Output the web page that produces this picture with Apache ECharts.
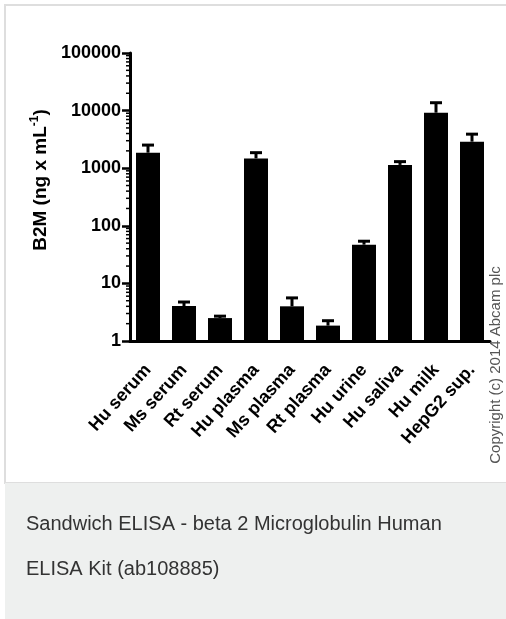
<!DOCTYPE html>
<html>
<head>
<meta charset="utf-8">
<script src="https://cdn.jsdelivr.net/npm/echarts@6/dist/echarts.min.js"></script>
<style>
  html, body { margin: 0; padding: 0; background: #fff; }
  #chart { width: 506px; height: 619px; }
</style>
</head>
<body>
<div id="chart"></div>
<script>
    // sample names on the x axis
    const categories = ['Hu serum', 'Ms serum', 'Rt serum', 'Hu plasma', 'Ms plasma',
        'Rt plasma', 'Hu urine', 'Hu saliva', 'Hu milk', 'HepG2 sup.'];
    // mean B2M concentration (ng/mL)
    const meanValues = [1860, 4.05, 2.5, 1480, 4.0, 1.85, 47, 1140, 9200, 2890];
    // top of the error bar (mean + SD)
    const upperValues = [2520, 4.75, 2.7, 1860, 5.6, 2.25, 54, 1300, 13700, 3900];
    // log axis labels and minor tick positions
    const yTickLabels = ['1', '10', '100', '1000', '10000', '100000'];
    const decades = [1, 10, 100, 1000, 10000];
    const minorSteps = [2, 3, 4, 5, 6, 7, 8, 9];

    const minorTicks = [];
    decades.forEach(function (d) {
        minorSteps.forEach(function (s) { minorTicks.push([0, d * s]); });
    });

    const errData = categories.map(function (c, i) {
        return [i, meanValues[i], upperValues[i]];
    });

    const chart = echarts.init(document.getElementById('chart'));

    const option = {
        animation: false,
        textStyle: { fontFamily: 'Liberation Sans, Arial, sans-serif' },
        grid: { left: 130, top: 53, width: 360, height: 288 },
        graphic: [
            {
                type: 'rect', z: -10,
                shape: { x: 5, y: 5, width: 520, height: 478 },
                style: { fill: '#fff', stroke: '#dedede', lineWidth: 2 }
            },
            {
                type: 'rect', z: -10,
                shape: { x: 5, y: 483, width: 520, height: 140 },
                style: { fill: '#eef0ef' }
            },
            {
                type: 'text', z: 5, x: 26, y: 534,
                style: {
                    text: 'Sandwich ELISA - beta 2 Microglobulin Human',
                    fill: '#333', font: '20px "Liberation Sans", Arial, sans-serif',
                    textVerticalAlign: 'bottom'
                }
            },
            {
                type: 'text', z: 5, x: 26, y: 579,
                style: {
                    text: 'ELISA Kit (ab108885)',
                    fill: '#333', font: '20px "Liberation Sans", Arial, sans-serif',
                    textVerticalAlign: 'bottom'
                }
            },
            {
                type: 'text', z: 5, x: 496, y: 365, rotation: Math.PI / 2,
                style: {
                    text: 'Copyright (c) 2014 Abcam plc',
                    fill: '#555', font: '15px "Liberation Sans", Arial, sans-serif',
                    textAlign: 'center', textVerticalAlign: 'middle'
                }
            }
        ],
        xAxis: {
            type: 'category',
            data: categories,
            axisLine: { lineStyle: { color: '#000', width: 3 } },
            axisTick: { alignWithLabel: true, length: 7, lineStyle: { color: '#000', width: 2.5 } },
            axisLabel: {
                rotate: 48, margin: 26, interval: 0,
                color: '#000', fontWeight: 'bold', fontSize: 18
            }
        },
        yAxis: {
            type: 'log',
            logBase: 10,
            min: 1,
            max: 100000,
            name: '{t|B2M (ng x mL}{s|-1}{t|)}',
            nameLocation: 'middle',
            nameGap: 65,
            nameTextStyle: {
                padding: [0, 0, 0, 34],
                rich: {
                    t: { fontSize: 19, fontWeight: 'bold', color: '#000', lineHeight: 24 },
                    s: { fontSize: 12, fontWeight: 'bold', color: '#000', lineHeight: 12, verticalAlign: 'top' }
                }
            },
            splitLine: { show: false },
            axisLine: { show: true, lineStyle: { color: '#000', width: 3 } },
            axisTick: { show: true, length: 8, lineStyle: { color: '#000', width: 2.5 } },
            axisLabel: {
                margin: 9, color: '#000', fontWeight: 'bold', fontSize: 18,
                formatter: function (v) {
                    return yTickLabels[Math.round(Math.log10(v))];
                }
            }
        },
        series: [
            {
                type: 'bar',
                data: meanValues,
                barWidth: 24,
                itemStyle: { color: '#000' },
                z: 3
            },
            {
                // upper error bars
                type: 'custom',
                data: errData,
                z: 2,
                renderItem: function (params, api) {
                    const top = api.coord([api.value(0), api.value(2)]);
                    const base = api.coord([api.value(0), api.value(1)]);
                    const half = 6;
                    const st = { stroke: '#000', lineWidth: 3 };
                    return {
                        type: 'group',
                        children: [
                            { type: 'line', shape: { x1: top[0], y1: base[1], x2: top[0], y2: top[1] }, style: st },
                            { type: 'line', shape: { x1: top[0] - half, y1: top[1], x2: top[0] + half, y2: top[1] }, style: st }
                        ]
                    };
                }
            },
            {
                // minor log ticks on the y axis
                type: 'custom',
                data: minorTicks,
                silent: true,
                renderItem: function (params, api) {
                    const p = api.coord([0, api.value(1)]);
                    const x0 = params.coordSys.x;
                    return {
                        type: 'line',
                        shape: { x1: x0 - 4, y1: p[1], x2: x0, y2: p[1] },
                        style: { stroke: '#000', lineWidth: 1.5 }
                    };
                }
            }
        ]
    };

    chart.setOption(option);
</script>
</body>
</html>
